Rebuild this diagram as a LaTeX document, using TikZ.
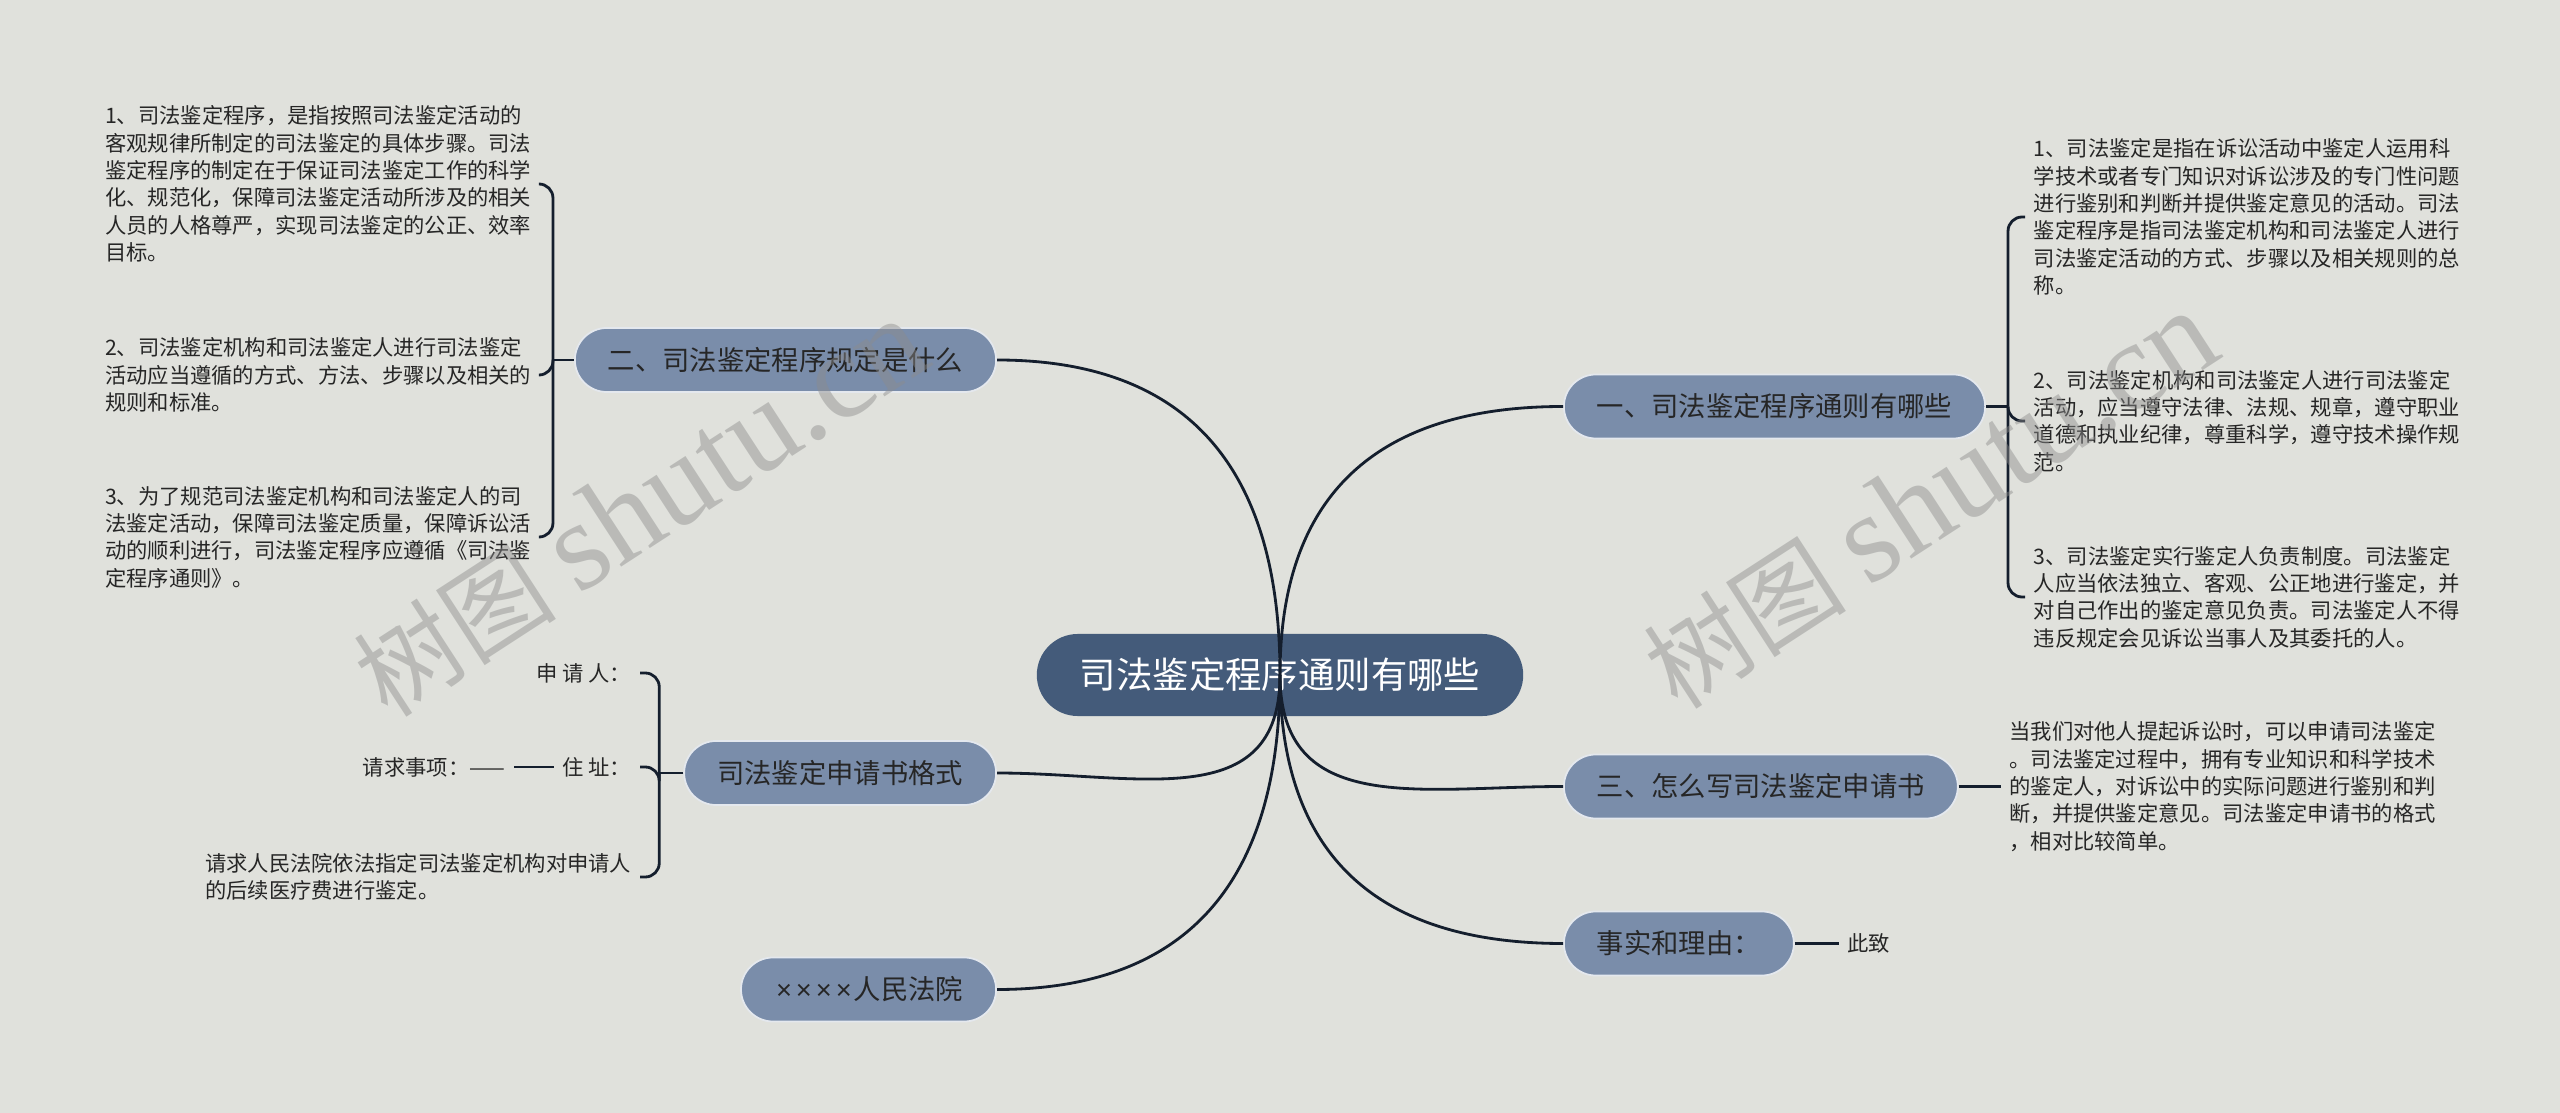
\documentclass[tikz,border=0pt]{standalone}
\usepackage{fontspec}
\setmainfont{Noto Sans CJK SC}
\newfontfamily\wmserif{Liberation Serif}
\newfontfamily\latsans{Liberation Sans}
\usetikzlibrary{positioning}
\definecolor{bgc}{RGB}{224,225,220}
\definecolor{rootc}{RGB}{68,91,122}
\definecolor{branchc}{RGB}{122,141,170}
\definecolor{linec}{RGB}{20,30,45}
\definecolor{textc}{RGB}{38,38,38}
\newcommand{\xmark}{\makebox[0.73em]{\latsans ×}}
\tikzset{
  rootnode/.style={fill=rootc, text=white, rounded corners=0.41cm, minimum height=0.82cm,
    inner xsep=0.43cm, font=\fontsize{10.35}{12}\selectfont},
  branch/.style={fill=branchc, draw=white!80!branchc, line width=0.5pt, text=textc,
    rounded corners=0.32cm, minimum height=0.64cm, inner xsep=0.33cm,
    font=\fontsize{7.77}{9}\selectfont},
  leaf/.style={text=textc, align=left, inner xsep=0.08cm, inner ysep=0pt,
    font=\fontsize{6.06}{7.77}\selectfont},
  link/.style={draw=linec, line width=0.8pt},
  brace/.style={link, rounded corners=0.14cm},
  wmark/.style={text=black!45, opacity=0.45, font=\fontsize{29}{32}\selectfont}
}
\begin{document}
\begin{tikzpicture}[x=0.01cm,y=-0.01cm]
  \fill[bgc] (0,0) rectangle (2560,1113);
  \useasboundingbox (0,0) rectangle (2560,1113);

  \node[rootnode] (root) at (1280,675) {司法鉴定程序通则有哪些};

  \node[branch, anchor=west] (b1) at (1563,406.5) {一、司法鉴定程序通则有哪些};
  \node[branch, anchor=east] (b2) at (997,360) {二、司法鉴定程序规定是什么};
  \node[branch, anchor=west] (b3) at (1563,786.5) {三、怎么写司法鉴定申请书};
  \node[branch, anchor=east] (b4) at (997,773) {司法鉴定申请书格式};
  \node[branch, anchor=west] (b5) at (1563,943.5) {事实和理由：};
  \node[branch, anchor=east] (b6) at (997,989.5) {\xmark\xmark\xmark\xmark 人民法院};

  \draw[link] (root.center) to[out=90,in=180,looseness=1.2] (b1.west);
  \draw[link] (root.center) to[out=90,in=0,looseness=1.2] (b2.east);
  \draw[link] (root.center) to[out=-90,in=180,looseness=1.2] (b3.west);
  \draw[link] (root.center) to[out=-90,in=0,looseness=1.2] (b4.east);
  \draw[link] (root.center) to[out=-90,in=180,looseness=1.2] (b5.west);
  \draw[link] (root.center) to[out=-90,in=0,looseness=1.2] (b6.east);

  % 一
  \node[leaf, anchor=west] (r1) at (2025,217) {1、司法鉴定是指在诉讼活动中鉴定人运用科\\学技术或者专门知识对诉讼涉及的专门性问题\\进行鉴别和判断并提供鉴定意见的活动。司法\\鉴定程序是指司法鉴定机构和司法鉴定人进行\\司法鉴定活动的方式、步骤以及相关规则的总\\称。};
  \node[leaf, anchor=west] (r2) at (2025,421) {2、司法鉴定机构和司法鉴定人进行司法鉴定\\活动，应当遵守法律、法规、规章，遵守职业\\道德和执业纪律，尊重科学，遵守技术操作规\\范。};
  \node[leaf, anchor=west] (r3) at (2025,597) {3、司法鉴定实行鉴定人负责制度。司法鉴定\\人应当依法独立、客观、公正地进行鉴定，并\\对自己作出的鉴定意见负责。司法鉴定人不得\\违反规定会见诉讼当事人及其委托的人。};
  \coordinate (f1) at ([xshift=0.22cm]b1.east);
  \draw[link] (b1.east) -- (f1);
  \draw[brace] (f1) |- (r1.west);
  \draw[brace] (f1) |- (r2.west);
  \draw[brace] (f1) |- (r3.west);

  % 二
  \node[leaf, anchor=east] (l1) at (540,184) {1、司法鉴定程序，是指按照司法鉴定活动的\\客观规律所制定的司法鉴定的具体步骤。司法\\鉴定程序的制定在于保证司法鉴定工作的科学\\化、规范化，保障司法鉴定活动所涉及的相关\\人员的人格尊严，实现司法鉴定的公正、效率\\目标。};
  \node[leaf, anchor=east] (l2) at (540,375) {2、司法鉴定机构和司法鉴定人进行司法鉴定\\活动应当遵循的方式、方法、步骤以及相关的\\规则和标准。};
  \node[leaf, anchor=east] (l3) at (540,537) {3、为了规范司法鉴定机构和司法鉴定人的司\\法鉴定活动，保障司法鉴定质量，保障诉讼活\\动的顺利进行，司法鉴定程序应遵循《司法鉴\\定程序通则》。};
  \coordinate (f2) at ([xshift=-0.21cm]b2.west);
  \draw[link] (b2.west) -- (f2);
  \draw[brace] (f2) |- (l1.east);
  \draw[brace] (f2) |- (l2.east);
  \draw[brace] (f2) |- (l3.east);

  % 三
  \node[leaf, right=0.42cm of b3] (t1) {当我们对他人提起诉讼时，可以申请司法鉴定\\。司法鉴定过程中，拥有专业知识和科学技术\\的鉴定人，对诉讼中的实际问题进行鉴别和判\\断，并提供鉴定意见。司法鉴定申请书的格式\\，相对比较简单。};
  \draw[link] (b3.east) -- (t1.west);

  % 格式
  \node[leaf, anchor=east] (a1) at (640,673) {申 请 人：};
  \node[leaf, anchor=east] (a2) at (640,767) {住 址：};
  \node[leaf, anchor=east] (a3) at (640,877) {请求人民法院依法指定司法鉴定机构对申请人\\的后续医疗费进行鉴定。};
  \node[leaf, left=0.4cm of a2] (q1) {请求事项：——};
  \coordinate (f4) at ([xshift=-0.24cm]b4.west);
  \draw[link] (b4.west) -- (f4);
  \draw[brace] (f4) |- (a1.east);
  \draw[brace] (f4) |- (a2.east);
  \draw[brace] (f4) |- (a3.east);
  \draw[link] (a2.west) -- (q1.east);

  % 理由
  \node[leaf, right=0.44cm of b5] (c1) {此致};
  \draw[link] (b5.east) -- (c1.west);

  \node[wmark, rotate=33] (wm1) at (640,508) {树图 {\wmserif\fontsize{36}{38}\selectfont shutu.cn}};
  \node[wmark, rotate=33] (wm2) at (1930,500) {树图 {\wmserif\fontsize{36}{38}\selectfont shutu.cn}};
\end{tikzpicture}
\end{document}
